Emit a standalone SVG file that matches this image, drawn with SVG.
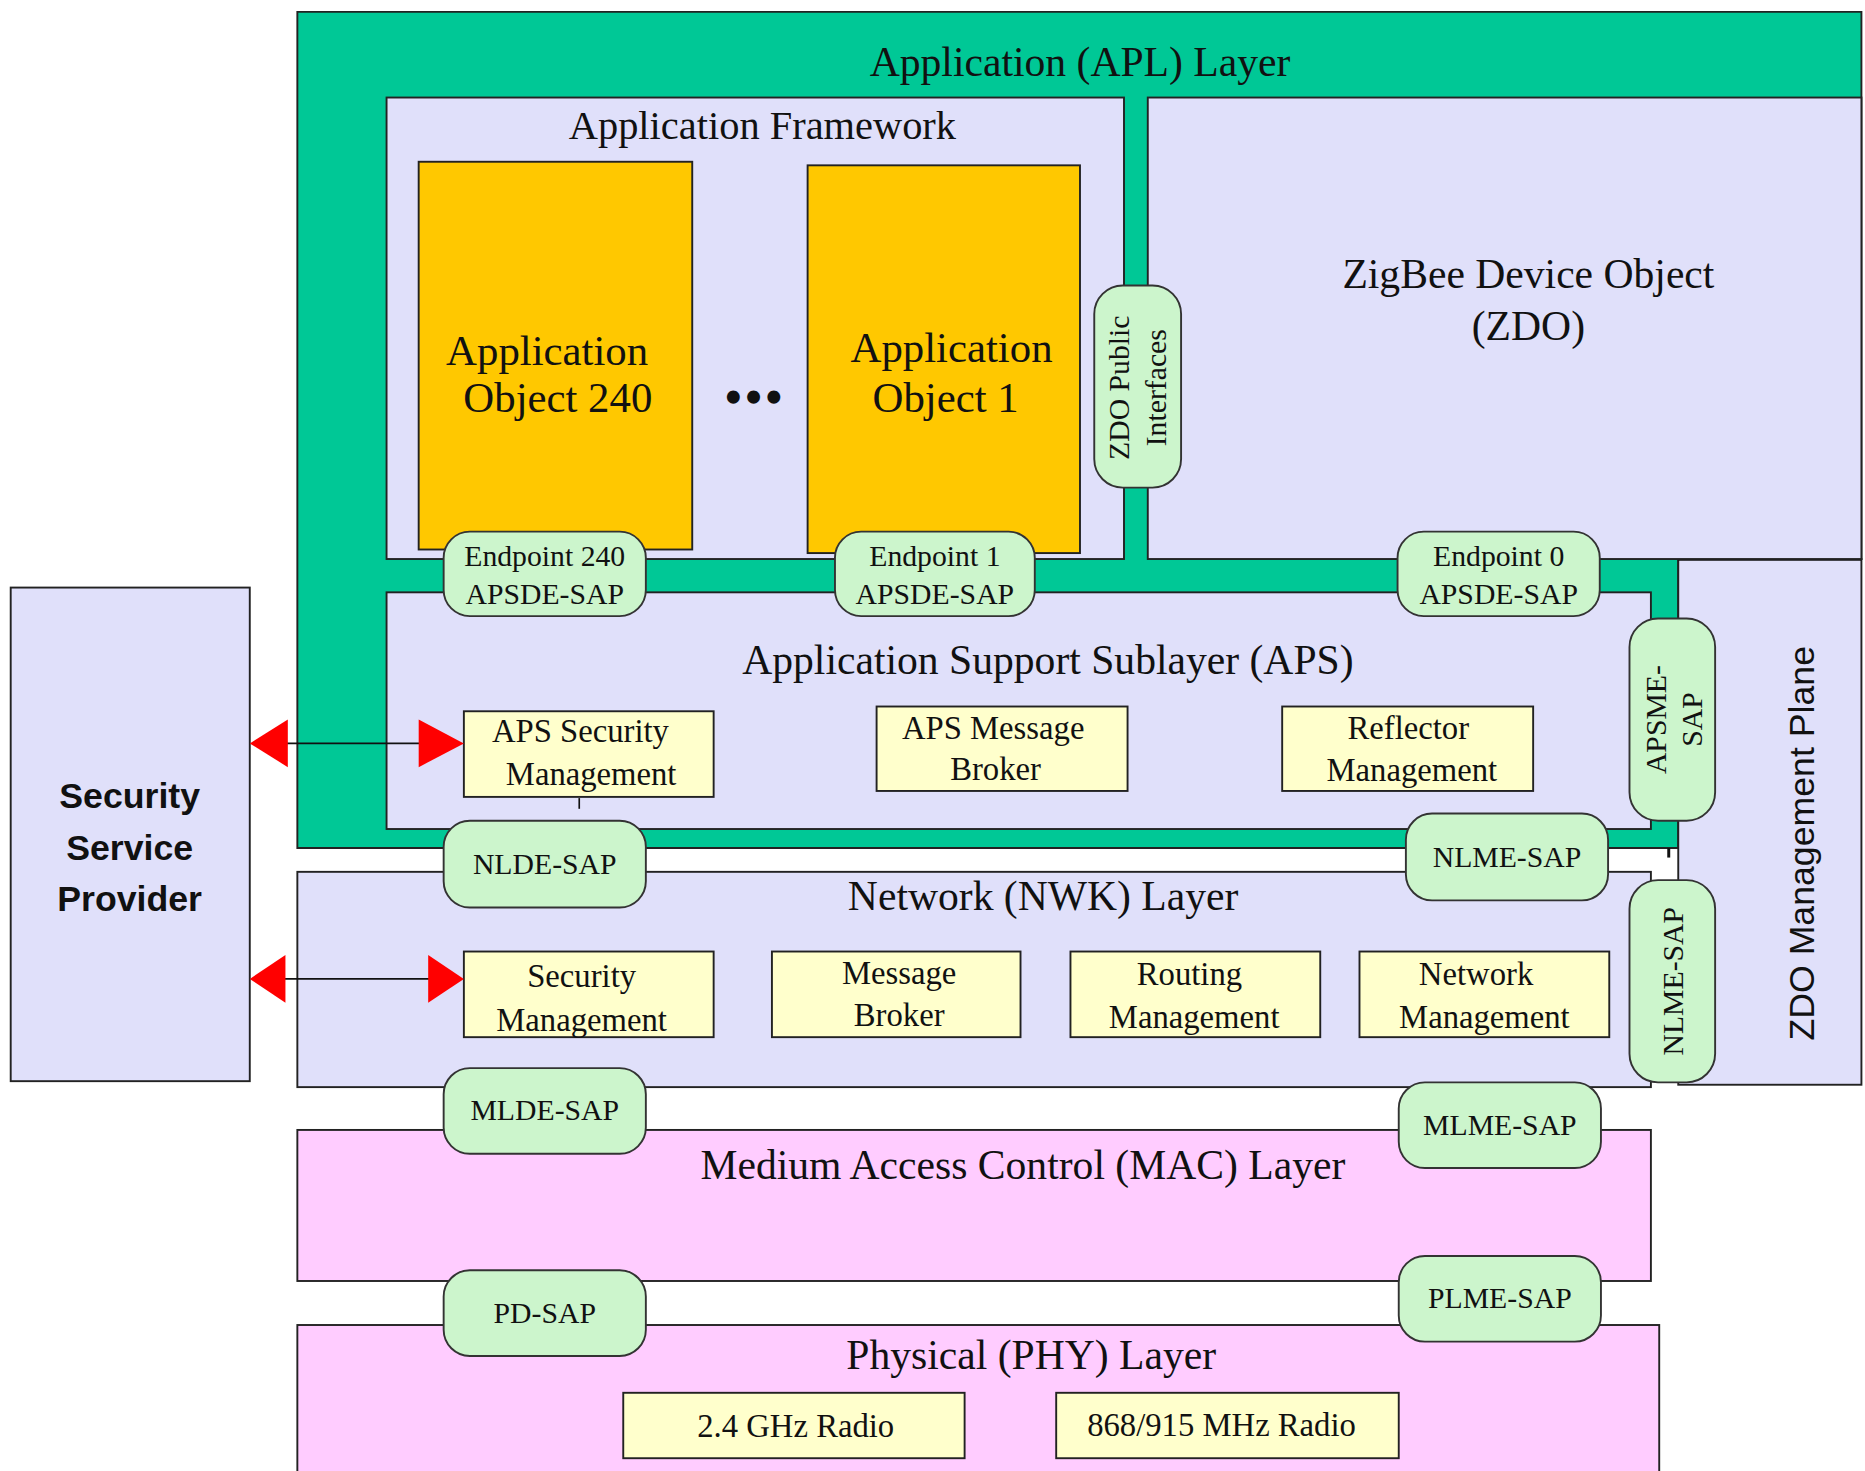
<svg xmlns="http://www.w3.org/2000/svg" width="1865" height="1471" viewBox="0 0 1865 1471">
<style>
.ser{font-family:"Liberation Serif","Times New Roman",serif;fill:#111;text-anchor:middle}
.sans{font-family:"Liberation Sans",Arial,sans-serif;fill:#111;text-anchor:middle}
.lav{fill:#e0e0fa;stroke:#222;stroke-width:1.6}
.gold{fill:#ffc800;stroke:#222;stroke-width:1.6}
.yel{fill:#ffffcc;stroke:#222;stroke-width:1.6}
.pink{fill:#ffccff;stroke:#222;stroke-width:1.6}
.pill{fill:#ccf5cc;stroke:#333;stroke-width:1.6}
.grn{fill:#00c896;stroke:#222;stroke-width:1.6}
.lnk{stroke:#111;stroke-width:1.4;fill:none}
.head{fill:#ff0000}
.big{font-size:35px}
.mid{font-size:27.5px}
.sm{font-size:25px}
</style>
<rect width="1865" height="1471" fill="#ffffff"/>
<g transform="scale(1.18941)">
<g id="apl-layer">
<polygon class="grn" points="250,10 1565,10 1565,470 1411,470 1411,713 250,713"/>
<text class="ser big" x="908" y="64">Application (APL) Layer</text>
</g>
<g id="zdo-mgmt-plane">
<rect class="lav" x="1411" y="470" width="154" height="442"/>
<line x1="1411" y1="470" x2="1565" y2="470" stroke="#111" stroke-width="3"/>
<text class="sans" font-size="30" transform="translate(1525,709) rotate(-90)">ZDO Management Plane</text>
</g>
<g id="app-framework">
<rect class="lav" x="325" y="82" width="620" height="388"/>
<text class="ser" x="641" y="117" font-size="34">Application Framework</text>
</g>
<g id="zdo">
<rect class="lav" x="965" y="82" width="600" height="388"/>
<text class="ser big" x="1285" y="242">ZigBee Device Object</text>
<text class="ser big" x="1285" y="286">(ZDO)</text>
</g>
<g id="aps">
<rect class="lav" x="325" y="498" width="1063" height="199"/>
<text class="ser big" x="881" y="567">Application Support Sublayer (APS)</text>
</g>
<g id="nwk">
<rect class="lav" x="250" y="733" width="1138" height="181"/>
<text class="ser big" x="877" y="765">Network (NWK) Layer</text>
</g>
<g id="mac">
<rect class="pink" x="250" y="950" width="1138" height="127"/>
<text class="ser big" x="860" y="991">Medium Access Control (MAC) Layer</text>
</g>
<g id="phy">
<rect class="pink" x="250" y="1114" width="1145" height="135"/>
<text class="ser big" x="867" y="1151">Physical (PHY) Layer</text>
</g>
<g id="ssp">
<rect class="lav" x="9" y="494" width="201" height="415"/>
<text class="sans" x="109" y="679" font-size="30" font-weight="bold">Security</text>
<text class="sans" x="109" y="723" font-size="30" font-weight="bold">Service</text>
<text class="sans" x="109" y="766" font-size="30" font-weight="bold">Provider</text>
</g>
<g id="app-object-240">
<rect class="gold" x="352" y="136" width="230" height="326"/>
<text class="ser" x="460" y="307" font-size="36">Application</text>
<text class="ser" x="469" y="346" font-size="36">Object 240</text>
</g>
<g id="ellipsis">
<text class="ser" x="635" y="347" font-size="40" font-weight="bold" letter-spacing="3">•••</text>
</g>
<g id="app-object-1">
<rect class="gold" x="679" y="139" width="229" height="326"/>
<text class="ser" x="800" y="304" font-size="36">Application</text>
<text class="ser" x="795" y="346" font-size="36">Object 1</text>
</g>
<g id="aps-security-mgmt">
<rect class="yel" x="390" y="598" width="210" height="72"/>
<text class="ser mid" x="488" y="624">APS Security</text>
<text class="ser mid" x="497" y="660">Management</text>
</g>
<g id="aps-message-broker">
<rect class="yel" x="737" y="594" width="211" height="71"/>
<text class="ser mid" x="835" y="621">APS Message</text>
<text class="ser mid" x="837" y="656">Broker</text>
</g>
<g id="reflector-mgmt">
<rect class="yel" x="1078" y="594" width="211" height="71"/>
<text class="ser mid" x="1184" y="621">Reflector</text>
<text class="ser mid" x="1187" y="657">Management</text>
</g>
<g id="security-mgmt">
<rect class="yel" x="390" y="800" width="210" height="72"/>
<text class="ser mid" x="489" y="830">Security</text>
<text class="ser mid" x="489" y="867">Management</text>
</g>
<g id="message-broker">
<rect class="yel" x="649" y="800" width="209" height="72"/>
<text class="ser mid" x="756" y="827">Message</text>
<text class="ser mid" x="756" y="863">Broker</text>
</g>
<g id="routing-mgmt">
<rect class="yel" x="900" y="800" width="210" height="72"/>
<text class="ser mid" x="1000" y="828">Routing</text>
<text class="ser mid" x="1004" y="864">Management</text>
</g>
<g id="network-mgmt">
<rect class="yel" x="1143" y="800" width="210" height="72"/>
<text class="ser mid" x="1241" y="828">Network</text>
<text class="ser mid" x="1248" y="864">Management</text>
</g>
<g id="radio-24">
<rect class="yel" x="524" y="1171" width="287" height="55"/>
<text class="ser mid" x="669" y="1208">2.4 GHz Radio</text>
</g>
<g id="radio-868">
<rect class="yel" x="888" y="1171" width="288" height="55"/>
<text class="ser mid" x="1027" y="1207">868/915 MHz Radio</text>
</g>
<g id="connectors">
<line class="lnk" x1="230" y1="625" x2="365" y2="625"/>
<polygon class="head" points="210,625 242,605 242,645"/>
<polygon class="head" points="390,625 352,605 352,645"/>
<line class="lnk" x1="230" y1="823" x2="365" y2="823"/>
<polygon class="head" points="210,823 240,803 240,843"/>
<polygon class="head" points="390,823 360,803 360,843"/>
<line class="lnk" x1="487" y1="671" x2="487" y2="680"/>
<line x1="1403" y1="713" x2="1403" y2="721" stroke="#111" stroke-width="2.5"/>
</g>
<g id="zdo-public-interfaces">
<rect class="pill" x="920" y="240" width="73" height="170" rx="24"/>
<text class="ser sm" transform="translate(949,326) rotate(-90)">ZDO Public</text>
<text class="ser sm" transform="translate(980,326) rotate(-90)">Interfaces</text>
</g>
<g id="endpoint-240">
<rect class="pill" x="373" y="447" width="170" height="71" rx="22"/>
<text class="ser sm" x="458" y="476">Endpoint 240</text>
<text class="ser sm" x="458" y="508">APSDE-SAP</text>
</g>
<g id="endpoint-1">
<rect class="pill" x="702" y="447" width="168" height="71" rx="22"/>
<text class="ser sm" x="786" y="476">Endpoint 1</text>
<text class="ser sm" x="786" y="508">APSDE-SAP</text>
</g>
<g id="endpoint-0">
<rect class="pill" x="1175" y="447" width="170" height="71" rx="22"/>
<text class="ser sm" x="1260" y="476">Endpoint 0</text>
<text class="ser sm" x="1260" y="508">APSDE-SAP</text>
</g>
<g id="apsme-sap">
<rect class="pill" x="1370" y="520" width="72" height="170" rx="24"/>
<text class="ser sm" transform="translate(1401,605) rotate(-90)">APSME-</text>
<text class="ser sm" transform="translate(1431,605) rotate(-90)">SAP</text>
</g>
<g id="nlde-sap">
<rect class="pill" x="373" y="690" width="170" height="73" rx="22"/>
<text class="ser sm" x="458" y="735">NLDE-SAP</text>
</g>
<g id="nlme-sap-h">
<rect class="pill" x="1182" y="684" width="170" height="73" rx="22"/>
<text class="ser sm" x="1267" y="729">NLME-SAP</text>
</g>
<g id="nlme-sap-v">
<rect class="pill" x="1370" y="740" width="72" height="170" rx="24"/>
<text class="ser sm" transform="translate(1415,825) rotate(-90)">NLME-SAP</text>
</g>
<g id="mlde-sap">
<rect class="pill" x="373" y="898" width="170" height="72" rx="22"/>
<text class="ser sm" x="458" y="942">MLDE-SAP</text>
</g>
<g id="mlme-sap">
<rect class="pill" x="1176" y="910" width="170" height="72" rx="22"/>
<text class="ser sm" x="1261" y="954">MLME-SAP</text>
</g>
<g id="pd-sap">
<rect class="pill" x="373" y="1068" width="170" height="72" rx="22"/>
<text class="ser sm" x="458" y="1112">PD-SAP</text>
</g>
<g id="plme-sap">
<rect class="pill" x="1176" y="1056" width="170" height="72" rx="22"/>
<text class="ser sm" x="1261" y="1100">PLME-SAP</text>
</g>
</g>
</svg>
